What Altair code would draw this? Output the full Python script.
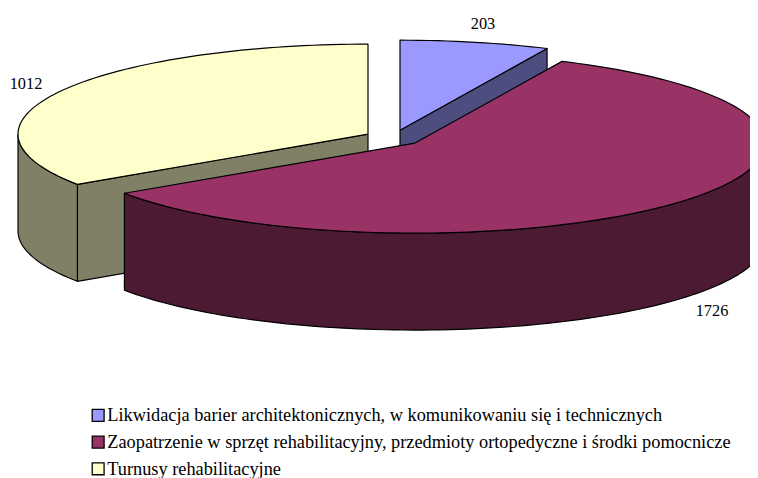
import math
import altair as alt
import pandas as pd

categories = ["Likwidacja barier architektonicznych, w komunikowaniu się i technicznych",
              "Zaopatrzenie w sprzęt rehabilitacyjny, przedmioty ortopedyczne i środki pomocnicze",
              "Turnusy rehabilitacyjne"]
values = [203, 1726, 1012]
top_colors = ["#9999FF", "#993366", "#FFFFCC"]
side_colors = ["#4D4D80", "#4D1A33", "#808066"]
# slice centres (chart units), ellipse radii and depth
centers = [(392, 121), (407, 134), (360, 125)]
RX, RY, DEPTH = 350, 91, 98
label_pos = [(475, 14), (704, 304), (18, 74)]

# the page fits a 750 wide drawing into 742 pixels; the x scale undoes that
DW = 742
K = 750 / 742
W, H = 750, 470
total = sum(values)
angles = [0]
for v in values:
    angles.append(angles[-1] + v / total * 360)

X = alt.X("x:Q", scale=alt.Scale(domain=[0, DW], range=[0, W]), axis=None)
Y = alt.Y("y:Q", scale=alt.Scale(domain=[0, H], range=[0, H]), axis=None)


def pt(c, t, d=0):
    r = math.radians(t)
    return (c[0] + RX * math.sin(r), c[1] - RY * math.cos(r) + d)


def arc(c, a, b, d=0):
    n = max(2, int(abs(b - a) / 1.5))
    return [pt(c, a + (b - a) * i / n, d) for i in range(n + 1)]


def poly(points, color):
    pts = list(points) + [points[0]]
    df = pd.DataFrame({"x": [p[0] for p in pts], "y": [p[1] for p in pts], "i": range(len(pts))})
    return alt.Chart(df).mark_line(fill=color, stroke="black", strokeWidth=1.2, strokeJoin="round").encode(
        x=X, y=Y, order="i:O")


layers = []
# yellow slice
c = centers[2]; a, b = angles[2], angles[3]
layers.append(poly([c, pt(c, a), pt(c, a, DEPTH), (c[0], c[1] + DEPTH)], side_colors[2]))
layers.append(poly(arc(c, a, 270) + arc(c, 270, a, DEPTH), side_colors[2]))
layers.append(poly([c] + arc(c, a, b), top_colors[2]))
# blue slice
c = centers[0]; a, b = angles[0], angles[1]
layers.append(poly([c, pt(c, b), pt(c, b, DEPTH), (c[0], c[1] + DEPTH)], side_colors[0]))
layers.append(poly([c] + arc(c, a, b), top_colors[0]))
# red slice
c = centers[1]; a, b = angles[1], angles[2]
layers.append(poly(arc(c, 90, b) + arc(c, b, 90, DEPTH), side_colors[1]))
layers.append(poly([c] + arc(c, a, b), top_colors[1]))

labels = pd.DataFrame({"x": [p[0] for p in label_pos], "y": [p[1] for p in label_pos], "t": [str(v) for v in values]})
layers.append(alt.Chart(labels).mark_text(font="Liberation Serif", fontSize=16.5, color="black").encode(
    x=X, y=Y, text="t:N"))

legend_df = pd.DataFrame({"name": categories, "x": [300, 300, 300], "y": [200, 200, 200]})
layers.append(alt.Chart(legend_df).mark_square(opacity=0).encode(
    x=X, y=Y,
    color=alt.Color("name:N", scale=alt.Scale(domain=categories, range=top_colors),
                    legend=alt.Legend(title=None, orient="none", legendX=81 * K, legendY=400,
                                      symbolType="square", symbolSize=144, symbolOpacity=1,
                                      symbolStrokeColor="black", symbolStrokeWidth=1.3,
                                      labelFont="Liberation Serif", labelFontSize=18.5, labelColor="black",
                                      labelLimit=730, rowPadding=8, labelOffset=0))))

chart = alt.layer(*layers).properties(
    width=W, height=H, padding=0, autosize=alt.AutoSizeParams(type="none")
).configure_view(stroke=None)
chart.save("out.html", embed_options={"renderer": "svg", "actions": False})
